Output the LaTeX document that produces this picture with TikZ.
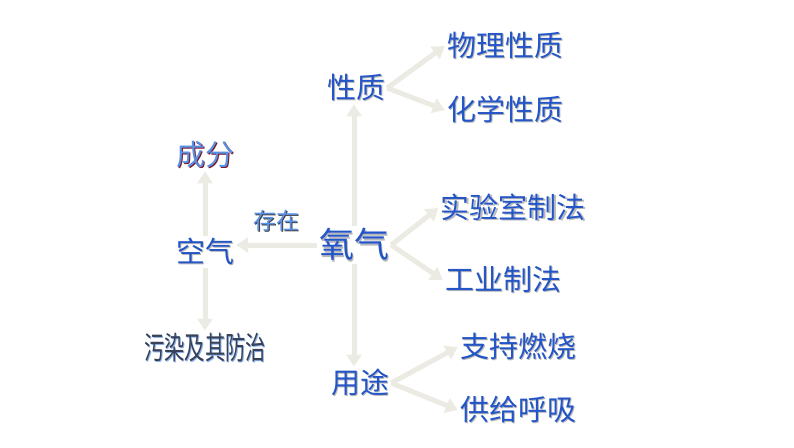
\documentclass[tikz,border=0pt]{standalone}
\usepackage{fontspec}
\newfontfamily\cjk{Noto Sans CJK SC}
\usetikzlibrary{arrows.meta,positioning}

\definecolor{arrowgray}{RGB}{236,235,227}
\definecolor{textblue}{RGB}{35,85,200}
\definecolor{lightblue}{RGB}{90,145,228}
\definecolor{slate}{RGB}{55,65,88}
\definecolor{darkred}{RGB}{125,20,35}

% text with a small drop shadow
\newcommand\shtxt[2][black!28]{\makebox[0pt][l]{\hspace{1.5pt}\raisebox{-1.5pt}{\textcolor{#1}{#2}}}#2}

\tikzset{
  word/.style={font=\cjk\fontsize{29}{31}\selectfont, text=textblue, inner sep=2pt},
  big/.style={font=\cjk\fontsize{35}{37}\selectfont},
  small/.style={font=\cjk\fontsize{23}{25}\selectfont},
  arr/.style={draw=arrowgray, line width=5pt, -{Triangle[width=15pt,length=12pt]}},
}

\begin{document}
\begin{tikzpicture}[x=1pt,y=-1pt]
\useasboundingbox (0,0) rectangle (794,447);

\node[word,big] (yq) at (354,245) {\shtxt{氧气}};
\node[word] (xz)  at (356,88)  {\shtxt{性质}};
\node[word] (wl)  at (505,46)  {\shtxt{物理性质}};
\node[word] (hx)  at (505,110) {\shtxt{化学性质}};
\node[word] (sys) at (513,208) {\shtxt{实验室制法}};
\node[word] (gy)  at (503,280) {\shtxt{工业制法}};
\node[word] (yt)  at (360,383) {\shtxt{用途}};
\node[word] (zc)  at (518,347) {\shtxt{支持燃烧}};
\node[word] (gg)  at (518,410) {\shtxt{供给呼吸}};
\node[word] (kq)  at (205,252) {\shtxt{空气}};
\node[word, text=lightblue] (cf) at (205,155) {\shtxt[darkred]{成分}};
\node[word, text=slate] (wr) at (205,348) {\scalebox{0.7}[1.08]{\shtxt[lightblue!70]{污染及其防治}}};
\node[word, small, text=lightblue] (cz) at (276,221) {\shtxt[black!75]{存在}};

\draw[arr] (yq) -- (yq |- xz.south);
\draw[arr] (yq) -- (yq |- yt.north);
\draw[arr] (yq.west) -- (kq.east |- yq.west);
\draw[arr] (yq.east) -- (sys.west);
\draw[arr] (yq.east) -- (gy.west);
\draw[arr] (xz.east) -- (wl.west);
\draw[arr] (xz.east) -- (hx.west);
\draw[arr] (yt.east) -- (zc.west);
\draw[arr] (yt.east) -- (gg.west);
\draw[arr] (kq) -- (cf);
\draw[arr] (kq) -- (wr);
\end{tikzpicture}
\end{document}
